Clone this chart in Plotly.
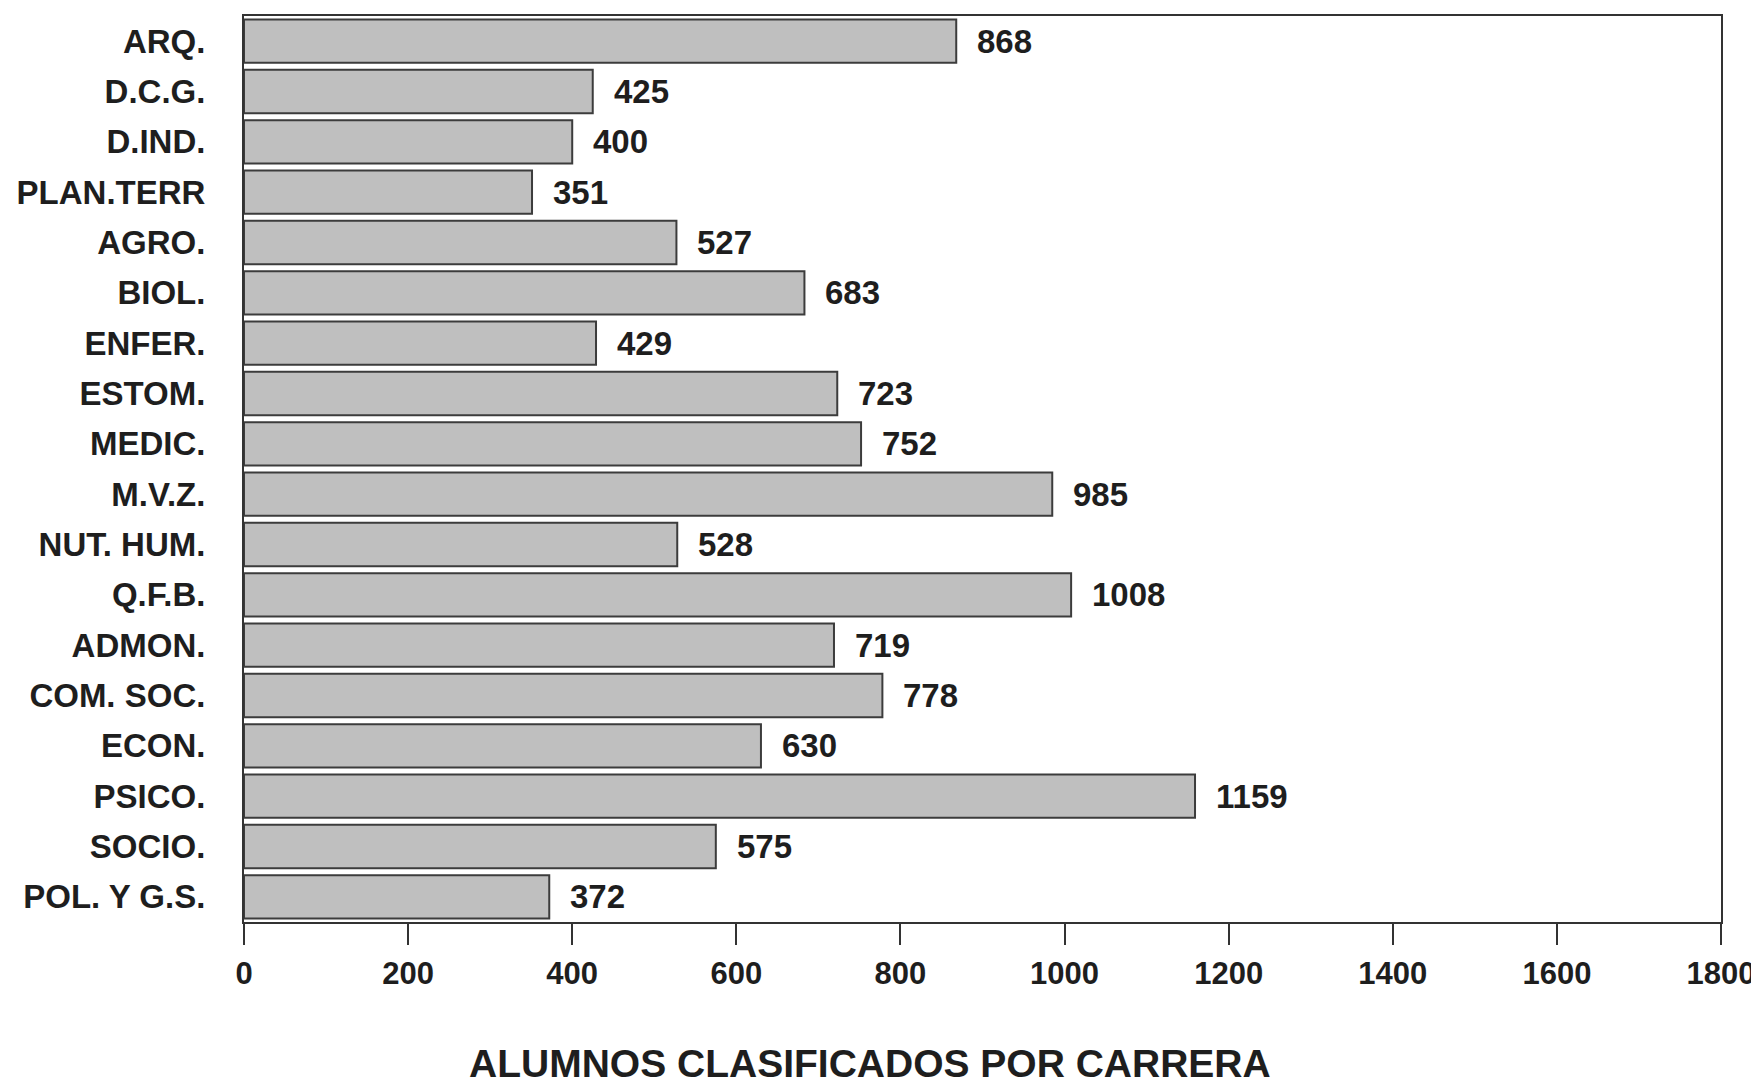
import plotly.graph_objects as go

categories = ["ARQ.", "D.C.G.", "D.IND.", "PLAN.TERR", "AGRO.", "BIOL.", "ENFER.",
              "ESTOM.", "MEDIC.", "M.V.Z.", "NUT. HUM.", "Q.F.B.", "ADMON.",
              "COM. SOC.", "ECON.", "PSICO.", "SOCIO.", "POL. Y G.S."]
values = [868, 425, 400, 351, 527, 683, 429, 723, 752, 985, 528, 1008, 719, 778, 630, 1159, 575, 372]
x_ticks = [0, 200, 400, 600, 800, 1000, 1200, 1400, 1600, 1800]
title_text = "ALUMNOS CLASIFICADOS POR CARRERA"

FONT = "Liberation Sans, Arial, sans-serif"
TXT = "#1e1e1e"

fig = go.Figure()
fig.add_trace(go.Bar(
    x=values, y=categories, orientation="h",
    marker=dict(color="#bfbfbf", line=dict(color="#3c3c3c", width=2)),
    width=0.86,
    hoverinfo="x+y",
))

for c, v in zip(categories, values):
    fig.add_annotation(x=v, y=c, xref="x", yref="y", text=f"<b>{v}</b>",
                       showarrow=False, xanchor="left", xshift=19,
                       font=dict(family=FONT, size=33, color=TXT))

fig.add_annotation(x=0.424, y=-0.156, xref="paper", yref="paper", text=f"<b>{title_text}</b>",
                   showarrow=False, xanchor="center", yanchor="middle",
                   font=dict(family=FONT, size=39, color=TXT))

# page body has an 8px margin, so the figure is placed at (8, 8)
fig.update_layout(
    width=1751, height=1074,
    margin=dict(l=236, r=38, t=8, b=160),
    paper_bgcolor="white", plot_bgcolor="white",
    showlegend=False,
    bargap=0.14,
    xaxis=dict(range=[0, 1800], tickvals=x_ticks, ticktext=[f"<b>{t}</b>" for t in x_ticks],
               automargin=False,
               showgrid=False, zeroline=False, showline=True, mirror=True,
               linecolor="#333333", linewidth=2, ticks="outside", ticklen=21,
               tickwidth=2, tickcolor="#333333", ticklabelstandoff=2,
               tickfont=dict(family=FONT, size=31, color=TXT)),
    yaxis=dict(categoryorder="array", categoryarray=categories, autorange="reversed",
               automargin=False,
               showgrid=False, zeroline=False, showline=True, mirror=True,
               linecolor="#333333", linewidth=2, ticks="",
               ticktext=[f"<b>{c}</b>" for c in categories], tickvals=categories,
               ticklabelstandoff=30,
               tickfont=dict(family=FONT, size=33, color=TXT)),
)

fig.write_html("out.html")
